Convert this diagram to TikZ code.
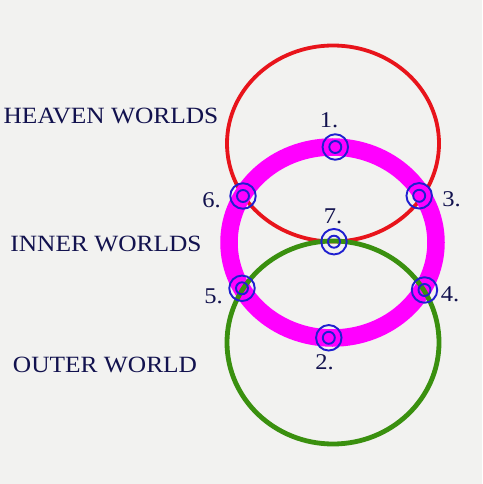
\documentclass[tikz,border=0pt]{standalone}
\usepackage{fontspec}
\setmainfont{Liberation Serif}[FakeStretch=1.09]
\definecolor{bg}{HTML}{F2F2F0}
\definecolor{redring}{HTML}{E8141B}
\definecolor{greenring}{HTML}{3A900F}
\definecolor{magring}{HTML}{FF00FF}
\definecolor{markblue}{HTML}{1F1FD0}
\definecolor{navy}{HTML}{12124E}
\begin{document}
\begin{tikzpicture}[x=1pt,y=-1pt,
  world/.style={text=navy,inner sep=0pt,font=\fontsize{23.3}{23.3}\selectfont},
  num/.style={text=navy,inner sep=0pt,font=\fontsize{22.5}{22.5}\selectfont},
  outerring/.style={circle,draw=markblue,line width=1.9pt,minimum size=25.5pt,inner sep=0pt},
  innerring/.style={circle,draw=markblue,line width=1.9pt,minimum size=12pt,inner sep=0pt}]
\fill[bg] (0,0) rectangle (482,484);
\useasboundingbox (0,0) rectangle (482,484);
% rings
\draw[redring,line width=3.8pt] (333,143.5) ellipse [x radius=106, y radius=98];
\draw[magring,line width=17.5pt] (332.5,242.5) ellipse [x radius=103.5, y radius=95.5];
\draw[greenring,line width=4.8pt] (333,342.5) ellipse [x radius=106, y radius=101.5];
% markers
\foreach \n/\x/\y in {1/335.3/147, 2/328.8/337.8, 3/419.2/195.8, 4/424.5/290, 5/242/288.3, 6/243/196, 7/334/241.7}{
  \node[outerring] (m\n) at (\x,\y) {};
  \node[innerring] (m\n i) at (m\n) {};
}
% numbers
\node[num] (n1) at (329,120) {1.};
\node[num] (n2) at (324.5,362) {2.};
\node[num] (n3) at (451.5,199.5) {3.};
\node[num] (n4) at (450,294.5) {4.};
\node[num] (n5) at (213.5,296.5) {5.};
\node[num] (n6) at (211.5,200.5) {6.};
\node[num] (n7) at (333,216) {7.};
% world labels
\node[world] (heaven) at (111,115.5) {HEAVEN WORLDS};
\node[world] (inner) at (106,243.5) {INNER WORLDS};
\node[world] (outer) at (105,365) {OUTER WORLD};
\end{tikzpicture}
\end{document}
